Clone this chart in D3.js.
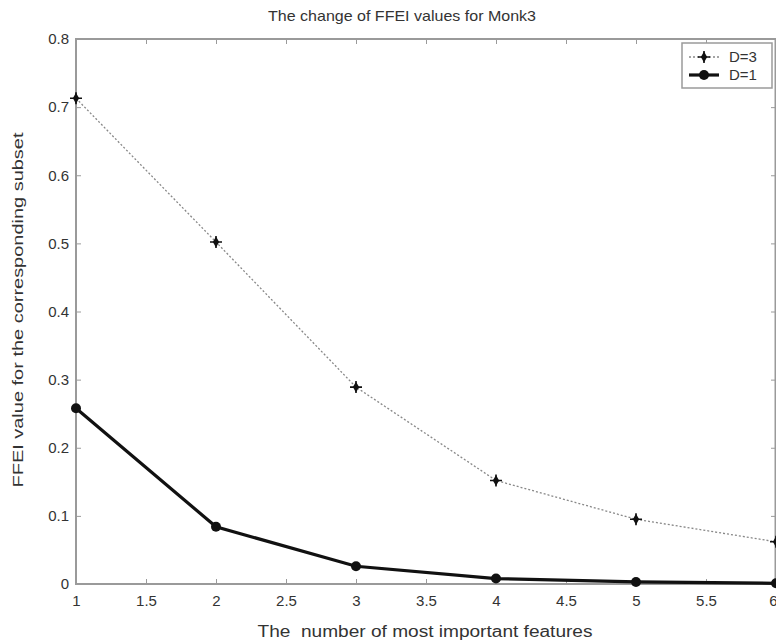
<!DOCTYPE html>
<html>
<head>
<meta charset="utf-8">
<script src="https://cdn.jsdelivr.net/npm/d3@7"></script>
<style>
  body { margin: 0; background: #fff; }
  text { font-family: "Liberation Sans", Arial, sans-serif; fill: #333; }
</style>
</head>
<body>
<div id="chart-area"></div>
<script>
// data
var features = [1, 2, 3, 4, 5, 6];
var valuesD3 = [0.713, 0.502, 0.289, 0.152, 0.095, 0.062];
var valuesD1 = [0.258, 0.084, 0.026, 0.008, 0.003, 0.001];
var xTicks = [1, 1.5, 2, 2.5, 3, 3.5, 4, 4.5, 5, 5.5, 6];
var yTicks = [0, 0.1, 0.2, 0.3, 0.4, 0.5, 0.6, 0.7, 0.8];

var W = 776, H = 644;
var margin = {left: 76, right: 0, top: 39, bottom: 60};
var width = W - margin.left - margin.right;
var height = H - margin.top - margin.bottom;

var svg = d3.select("#chart-area").append("svg")
    .attr("width", W)
    .attr("height", H);

var g = svg.append("g")
    .attr("transform", "translate(" + margin.left + "," + margin.top + ")");

var x = d3.scaleLinear().domain([1, 6]).range([0, width]);
var y = d3.scaleLinear().domain([0, 0.8]).range([height, 0]);

var axisColor = "#9a9a9a";

// frame
g.append("rect")
    .attr("x", 0).attr("y", 0)
    .attr("width", width - 0.5).attr("height", height)
    .attr("fill", "none")
    .attr("stroke", axisColor)
    .attr("stroke-width", 2);

// bottom axis (ticks inward)
var xAxis = g.append("g")
    .attr("transform", "translate(0," + height + ")")
    .call(d3.axisBottom(x).tickValues(xTicks).tickSize(-5).tickPadding(11)
        .tickFormat(d3.format("")));
xAxis.select(".domain").remove();
xAxis.selectAll("line").attr("stroke", axisColor);
xAxis.selectAll("text").style("font-size", "15px").attr("fill", "#444");
// last label sits on the edge, keep it inside
xAxis.selectAll("text").filter(d => d === 6).attr("text-anchor", "end").attr("dx", 1);

// top ticks
var xTop = g.append("g")
    .call(d3.axisTop(x).tickValues(xTicks).tickSize(-5).tickFormat(""));
xTop.select(".domain").remove();
xTop.selectAll("line").attr("stroke", axisColor);

// left axis
var yAxis = g.append("g")
    .call(d3.axisLeft(y).tickValues(yTicks).tickSize(-5).tickPadding(7)
        .tickFormat(d3.format("")));
yAxis.select(".domain").remove();
yAxis.selectAll("line").attr("stroke", axisColor);
yAxis.selectAll("text").style("font-size", "15px").attr("fill", "#444");

// right ticks
var yRight = g.append("g")
    .attr("transform", "translate(" + width + ",0)")
    .call(d3.axisRight(y).tickValues(yTicks).tickSize(-5).tickFormat(""));
yRight.select(".domain").remove();
yRight.selectAll("line").attr("stroke", axisColor);

var line = d3.line()
    .x((d, i) => x(features[i]))
    .y(d => y(d));

// D=1 series
g.append("path")
    .datum(valuesD1)
    .attr("d", line)
    .attr("fill", "none")
    .attr("stroke", "#111")
    .attr("stroke-width", 3.2);

g.selectAll(".m1").data(valuesD1).enter().append("circle")
    .attr("class", "m1")
    .attr("cx", (d, i) => x(features[i]))
    .attr("cy", d => y(d))
    .attr("r", 5)
    .attr("fill", "#111");

// D=3 series
g.append("path")
    .datum(valuesD3)
    .attr("d", line)
    .attr("fill", "none")
    .attr("stroke", "#888")
    .attr("stroke-width", 1.3)
    .attr("stroke-dasharray", "2,2");

var diamond = d3.symbol().type(d3.symbolDiamond).size(34);
var plus = "M-6,0H6M0,-6V6";

function starMark(sel) {
    sel.append("path").attr("d", diamond).attr("fill", "#111");
    sel.append("path").attr("d", plus)
        .attr("fill", "none").attr("stroke", "#111").attr("stroke-width", 1.6);
}

g.selectAll(".m3").data(valuesD3).enter().append("g")
    .attr("class", "m3")
    .attr("transform", (d, i) => "translate(" + x(features[i]) + "," + y(d) + ")")
    .call(starMark);

// legend
var lg = svg.append("g").attr("transform", "translate(682,43)");
lg.append("rect")
    .attr("width", 90).attr("height", 45)
    .attr("fill", "#fff")
    .attr("stroke", axisColor)
    .attr("stroke-width", 1.5);

lg.append("line")
    .attr("x1", 7).attr("x2", 37).attr("y1", 14).attr("y2", 14)
    .attr("stroke", "#888").attr("stroke-width", 1.3).attr("stroke-dasharray", "2,2");
lg.append("g").attr("transform", "translate(22,14)").call(starMark);
lg.append("text").attr("x", 47).attr("y", 19).text("D=3").style("font-size", "15px");

lg.append("line")
    .attr("x1", 7).attr("x2", 37).attr("y1", 32).attr("y2", 32)
    .attr("stroke", "#111").attr("stroke-width", 3.2);
lg.append("circle").attr("cx", 22).attr("cy", 32).attr("r", 5).attr("fill", "#111");
lg.append("text").attr("x", 47).attr("y", 37).text("D=1").style("font-size", "15px");

// titles (stretched a little like the scanned figure)
svg.append("text")
    .attr("x", 402).attr("y", 21)
    .attr("text-anchor", "middle")
    .attr("textLength", 268)
    .attr("lengthAdjust", "spacingAndGlyphs")
    .style("font-size", "15px")
    .text("The change of FFEI values for Monk3");

svg.append("text")
    .attr("x", 425).attr("y", 637)
    .attr("text-anchor", "middle")
    .attr("textLength", 335)
    .attr("lengthAdjust", "spacingAndGlyphs")
    .style("font-size", "16px")
    .attr("xml:space", "preserve")
    .text("The  number of most important features");

svg.append("text")
    .attr("transform", "translate(23,310) rotate(-90)")
    .attr("text-anchor", "middle")
    .attr("textLength", 355)
    .attr("lengthAdjust", "spacingAndGlyphs")
    .style("font-size", "15px")
    .text("FFEI value for the corresponding subset");
</script>
</body>
</html>
